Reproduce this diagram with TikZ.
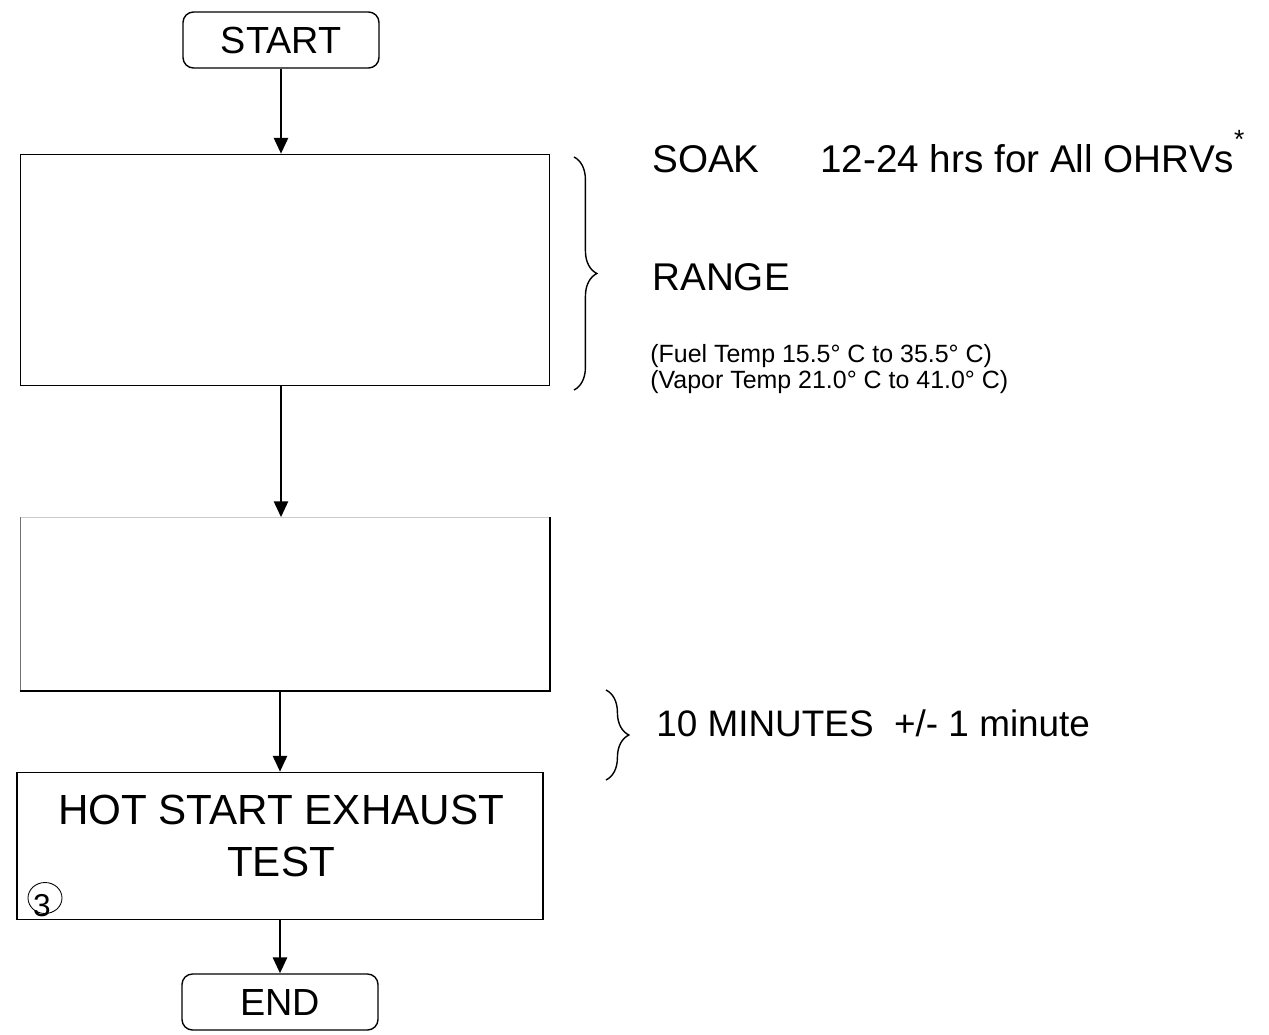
\documentclass[tikz,border=0pt]{standalone}
\usepackage{fontspec}
\setmainfont{Liberation Sans}
\usetikzlibrary{arrows.meta,positioning,shapes.geometric,decorations.pathreplacing}

\begin{document}
\begin{tikzpicture}[x=0.02cm, y=-0.02cm,
    flow/.style={draw, line width=1.3pt, -{Triangle[length=9pt, width=8pt]}},
    termbox/.style={draw, line width=0.8pt, rounded corners=6pt, minimum width=196*0.02cm, minimum height=56*0.02cm, font=\fontsize{21.5}{25}\selectfont},
    stepbox/.style={minimum width=529*0.02cm, inner sep=0pt, align=center},
    note/.style={anchor=base west, inner sep=0pt, font=\fontsize{22}{26}\selectfont},
    smallnote/.style={anchor=base west, inner sep=0pt, font=\fontsize{14.2}{17}\selectfont},
    curly/.style={draw, line width=0.8pt, decorate, decoration={brace, amplitude=13pt}}]
  \useasboundingbox (0,0) rectangle (1269,1035);

  % Start and first box
  \node[termbox] (start) at (281,40) {START};
  \node[stepbox, draw, line width=0.9pt, minimum height=231*0.02cm] (soakbox) at (285,270) {};

  % second box, faint top and left edges
  \node[stepbox, minimum height=173*0.02cm] (waitbox) at (285,604) {};
  \draw[black!20, line width=0.6pt] (waitbox.north west) -- (waitbox.north east);
  \draw[black!55, line width=0.6pt] (waitbox.north west) -- (waitbox.south west);
  \draw[line width=0.9pt] (waitbox.north east) -- (waitbox.south east) -- (waitbox.south west);

  % Hot start test
  \node[stepbox, draw, line width=0.9pt, minimum width=526*0.02cm, minimum height=147*0.02cm] (hotbox) at (280,846) {};
  \node[font=\fontsize{24}{30}\selectfont, align=center] (hottext) at (281,836) {HOT START EXHAUST\\TEST};
  \node[draw, ellipse, line width=0.5pt, minimum width=34*0.02cm, minimum height=31*0.02cm, inner sep=0pt] (numring) at (45,898) {};
  \node[font=\fontsize{18}{20}\selectfont, inner sep=0pt] (numtext) at (42,906) {3};
  \node[termbox] (finish) at (280,1002) {END};

  % connectors
  \draw[flow] (start) -- (start |- soakbox.north);
  \draw[flow] (start |- soakbox.south) -- (start |- waitbox.north);
  \draw[flow] (hotbox |- waitbox.south) -- (hotbox.north);
  \draw[flow] (hotbox) -- (finish);

  % braces
  \draw[curly] (574,157) -- (574,390);
  \draw[curly] (606,690) -- (606,780);

  % notes
  \node[note] (soak) at (652,172) {SOAK};
  \node[note] (soakhrs) at (820,172) {12-24 hrs for All OHRVs\raisebox{0.6em}{\fontsize{15}{16}\selectfont *}};
  \node[note] (range) at (652,290) {RANGE};
  \node[smallnote] (fuel) at (650,362) {(Fuel Temp 15.5° C to 35.5° C)};
  \node[smallnote] (vapor) at (650,388) {(Vapor Temp 21.0° C to 41.0° C)};
  \node[note, font=\fontsize{21}{25}\selectfont] (soaktime) at (656,736) {10 MINUTES \ +/- 1 minute};
\end{tikzpicture}
\end{document}
